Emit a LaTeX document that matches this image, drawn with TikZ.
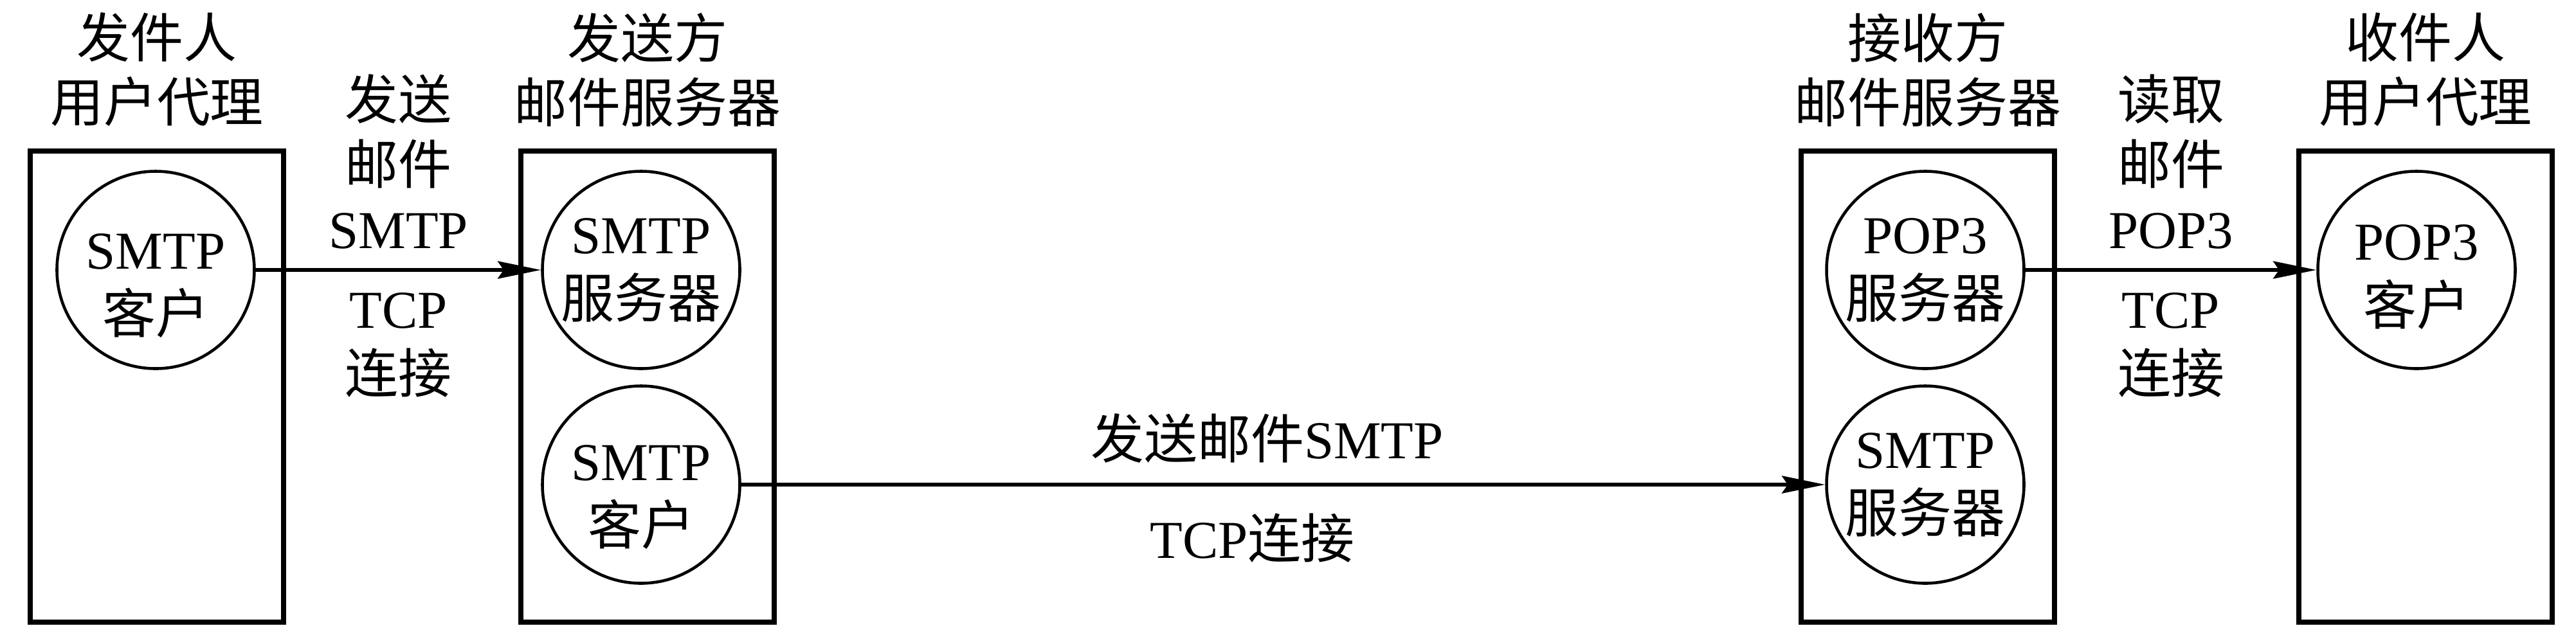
\documentclass[tikz,border=0pt]{standalone}
\usepackage{fontspec}
\setmainfont{Liberation Serif}
\newfontfamily\cjk{Noto Sans CJK SC}
\usepackage{tikz}
\usetikzlibrary{arrows.meta,positioning}
\newcommand{\zh}[1]{{\cjk #1}}
\newcommand{\sink}[1]{\rule{0pt}{#1}}

\begin{document}
\begin{tikzpicture}[
            font=\fontsize{23.6pt}{28.5pt}\selectfont,
            agent/.style={rectangle, draw, line width=2.5pt, minimum width=3.94cm, minimum height=7.33cm, inner sep=0},
            proc/.style={circle, draw, line width=1.3pt, minimum size=3.07cm, inner sep=0, align=center},
            title/.style={align=center, inner sep=0},
            note/.style={align=center, inner sep=0},
            arrow/.style={-{Stealth[length=6.7mm, width=2.7mm, inset=0.9mm]}, line width=1.7pt}
        ]
        \useasboundingbox (0,0) rectangle (40.06,-10.01);
        
        \node[agent] (sendUA) at (2.44,-6.015) {};
        \node[agent] (sendMTA) at (10.07,-6.015) {};
        \node[agent] (recvMTA) at (29.98,-6.015) {};
        \node[agent] (recvUA) at (37.72,-6.015) {};
        
        \node[title, above=0.33cm of sendUA.north] (sendUAt) {\zh{发件人}\\\zh{用户代理}};
        \node[title, above=0.33cm of sendMTA.north] (sendMTAt) {\zh{发送方}\\\zh{邮件服务器}};
        \node[title, above=0.33cm of recvMTA.north] (recvMTAt) {\zh{接收方}\\\zh{邮件服务器}};
        \node[title, above=0.33cm of recvUA.north] (recvUAt) {\zh{收件人}\\\zh{用户代理}};
        
        \node[proc] (smtpCli) at (2.42,-4.20) {\sink{1.04cm}SMTP\\\zh{客户}};
        \node[proc] (smtpSrv) at (9.97,-4.20) {SMTP\\\zh{服务器}};
        \node[proc] (smtpOut) at (9.97,-7.54) {\sink{0.94cm}SMTP\\\zh{客户}};
        \node[proc] (pop3Srv) at (29.94,-4.20) {POP3\\\zh{服务器}};
        \node[proc] (smtpIn) at (29.94,-7.54) {SMTP\\\zh{服务器}};
        \node[proc] (pop3Cli) at (37.58,-4.20) {\sink{0.77cm}POP3\\\zh{客户}};
        
        \draw[arrow] (smtpCli) -- (smtpSrv)
            node[note, midway, above=0.3cm] (sendTop) {\zh{发送}\\\zh{邮件}\\SMTP}
            node[note, midway, below=0.33cm] (sendBot) {TCP\\\zh{连接}};
        \draw[arrow] (smtpOut) -- (smtpIn)
            node[note, midway, above=0.31cm, xshift=-0.25cm] (relayTop) {\zh{发送邮件}SMTP}
            node[note, midway, below=0.42cm, xshift=-0.48cm] (relayBot) {TCP\zh{连接}};
        \draw[arrow] (pop3Srv) -- (pop3Cli)
            node[note, midway, above=0.3cm] (readTop) {\zh{读取}\\\zh{邮件}\\POP3}
            node[note, midway, below=0.33cm] (readBot) {TCP\\\zh{连接}};
        
\end{tikzpicture}
\end{document}
